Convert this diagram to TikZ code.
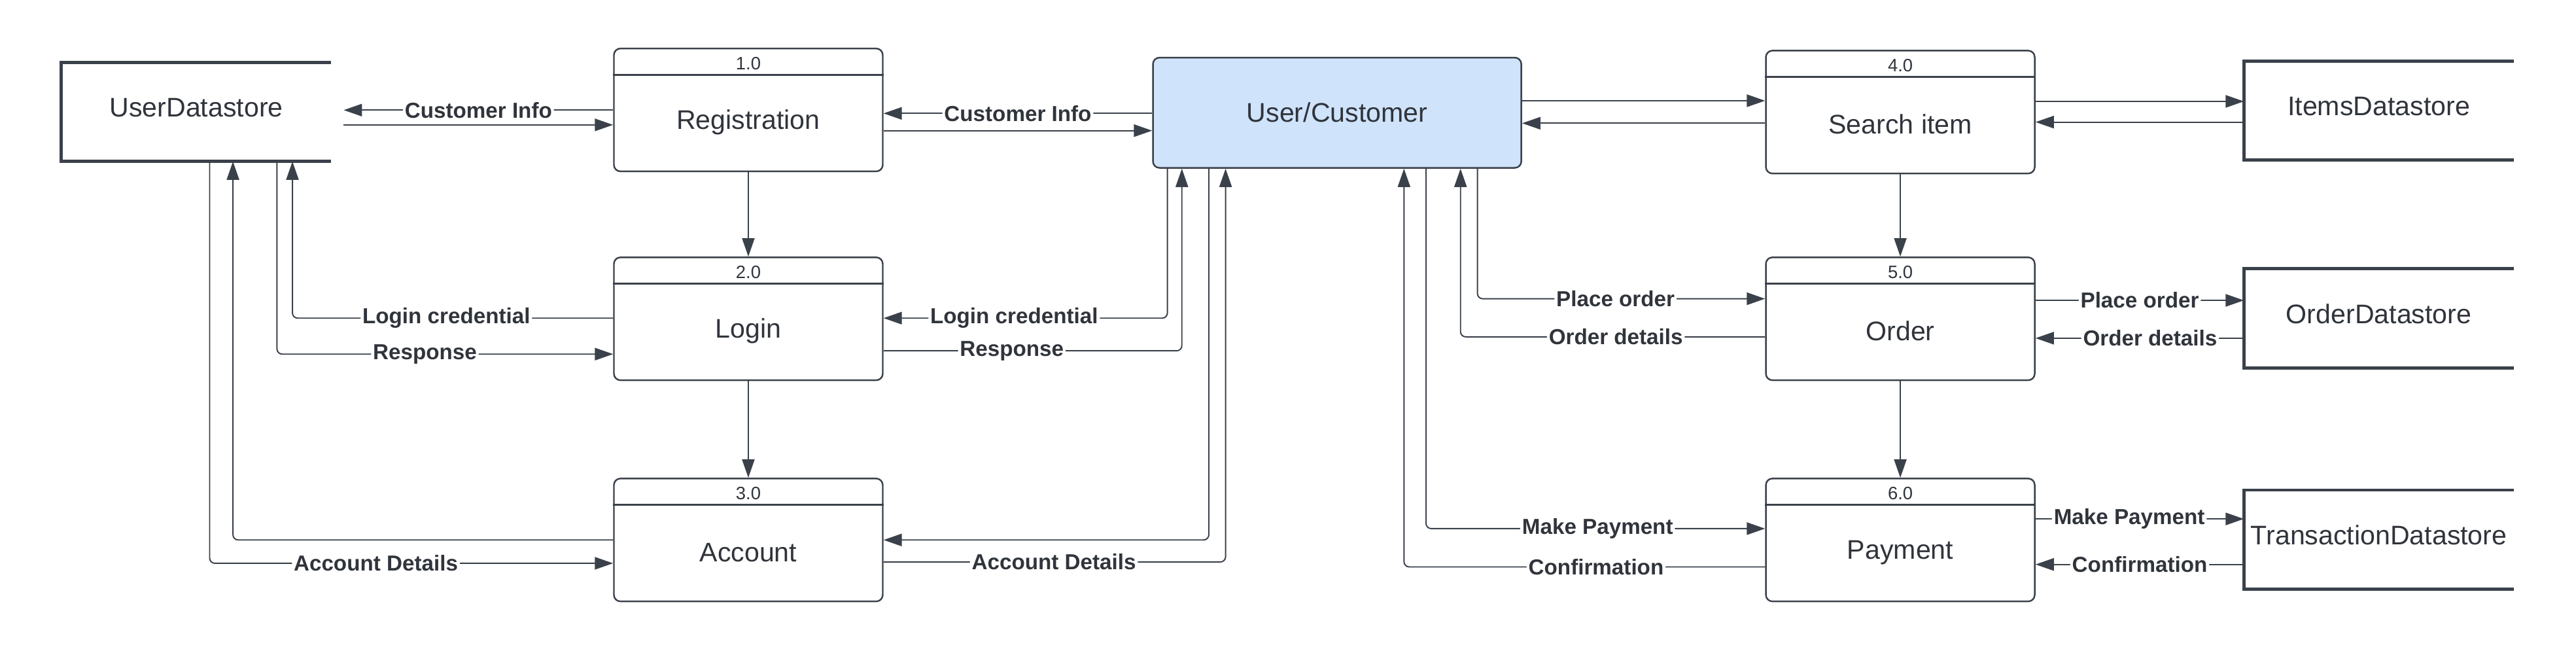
\documentclass[tikz,border=0pt]{standalone}
\usepackage{fontspec}
\setmainfont{Liberation Sans}
\usetikzlibrary{arrows.meta}
\definecolor{ink}{HTML}{3A414A}
\definecolor{inktext}{HTML}{30343B}
\definecolor{userblue}{HTML}{CFE3FA}

\begin{document}
\begin{tikzpicture}[x=0.02511cm, y=-0.02511cm,
% common options for the process boxes:
proc/.style = {draw=ink, line width=0.7pt, rounded corners=0.1cm,
            minimum width=4.11cm, minimum height=1.878cm, inner sep=0},
pnum/.style = {text=inktext, font=\fontsize{7.8}{9}\selectfont, inner sep=0},
ptxt/.style = {text=inktext, font=\fontsize{11.7}{14}\selectfont, inner sep=0},
hdr/.style = {draw=ink, line width=0.7pt},
% common options for the external entity:
ent/.style = {draw=ink, fill=userblue, line width=0.7pt, rounded corners=0.1cm,
            minimum width=5.632cm, minimum height=1.685cm, inner sep=0,
            text=inktext, font=\fontsize{11.7}{14}\selectfont},
% common options for the datastores:
store/.style = {text=inktext, font=\fontsize{11.7}{14}\selectfont, text depth=4pt,
            minimum width=4.113cm, minimum height=1.502cm, inner sep=0},
storeline/.style = {draw=ink, line width=1.4pt},
% common options for the flows:
flow/.style = {draw=ink, line width=0.55pt, rounded corners=0.08cm,
            -{Triangle[length=0.28cm, width=0.19cm]}},
lbl/.style = {fill=white, text=inktext, font=\bfseries\fontsize{9.45}{11}\selectfont,
            inner sep=0.8pt}]
\useasboundingbox (0,0) rectangle (1568,396);
% data stores
\node[store] (D1) at (119.5,68.1) {UserDatastore};
\node[store] (D2) at (1448,67.3) {ItemsDatastore};
\node[store] (D3) at (1448,193.8) {OrderDatastore};
\node[store] (D4) at (1448,328.4) {TransactionDatastore};
\draw[storeline] (D1.north east) -- (D1.north west) -- (D1.south west) -- (D1.south east);
\draw[storeline] (D2.north east) -- (D2.north west) -- (D2.south west) -- (D2.south east);
\draw[storeline] (D3.north east) -- (D3.north west) -- (D3.south west) -- (D3.south east);
\draw[storeline] (D4.north east) -- (D4.north west) -- (D4.south west) -- (D4.south east);
\coordinate (D1r) at ([xshift=0.19cm]D1.east);
% processes
\node[proc] (P1) at (455.5,66.9) {};
\node[proc] (P2) at (455.5,194) {};
\node[proc] (P3) at (455.5,328.6) {};
\node[proc] (P4) at (1156.7,68.2) {};
\node[proc] (P5) at (1156.7,194) {};
\node[proc] (P6) at (1156.7,328.6) {};
\draw[hdr] ([yshift=-0.415cm]P1.north west) -- ([yshift=-0.415cm]P1.north east);
\draw[hdr] ([yshift=-0.415cm]P2.north west) -- ([yshift=-0.415cm]P2.north east);
\draw[hdr] ([yshift=-0.415cm]P3.north west) -- ([yshift=-0.415cm]P3.north east);
\draw[hdr] ([yshift=-0.415cm]P4.north west) -- ([yshift=-0.415cm]P4.north east);
\draw[hdr] ([yshift=-0.415cm]P5.north west) -- ([yshift=-0.415cm]P5.north east);
\draw[hdr] ([yshift=-0.415cm]P6.north west) -- ([yshift=-0.415cm]P6.north east);
\node[pnum] (N1) at ([yshift=-0.24cm]P1.north) {1.0};
\node[pnum] (N2) at ([yshift=-0.24cm]P2.north) {2.0};
\node[pnum] (N3) at ([yshift=-0.24cm]P3.north) {3.0};
\node[pnum] (N4) at ([yshift=-0.24cm]P4.north) {4.0};
\node[pnum] (N5) at ([yshift=-0.24cm]P5.north) {5.0};
\node[pnum] (N6) at ([yshift=-0.24cm]P6.north) {6.0};
\node[ptxt] (T1) at ([yshift=-0.19cm]P1.center) {Registration};
\node[ptxt] (T2) at ([yshift=-0.19cm]P2.center) {Login};
\node[ptxt] (T3) at ([yshift=-0.19cm]P3.center) {Account};
\node[ptxt] (T4) at ([yshift=-0.19cm]P4.center) {Search item};
\node[ptxt] (T5) at ([yshift=-0.19cm]P5.center) {Order};
\node[ptxt] (T6) at ([yshift=-0.19cm]P6.center) {Payment};
% external entity
\node[ent] (U) at (813.9,68.6) {User/Customer};
% top row
\draw[flow] (P1.west |- 0,67) -- node[lbl] (L1) {Customer Info} (D1r |- 0,67);
\draw[flow] (D1r |- 0,76) -- (P1.west |- 0,76);
\draw[flow] (U.west |- 0,69) -- node[lbl] (L2) {Customer Info} (P1.east |- 0,69);
\draw[flow] (P1.east |- 0,79.5) -- (U.west |- 0,79.5);
\draw[flow] (U.east |- 0,61.3) -- (P4.west |- 0,61.3);
\draw[flow] (P4.west |- 0,75) -- (U.east |- 0,75);
\draw[flow] (P4.east |- 0,61.7) -- (D2.west |- 0,61.7);
\draw[flow] (D2.west |- 0,74.3) -- (P4.east |- 0,74.3);
% down the columns
\draw[flow] (P1) -- (P2);
\draw[flow] (P2) -- (P3);
\draw[flow] (P4) -- (P5);
\draw[flow] (P5) -- (P6);
% left loops
\draw[flow] (P2.west |- 0,193.6) -| node[lbl, pos=0.26] (L3) {Login credential} (D1.south -| 178,0);
\draw[flow] (D1.south -| 168.6,0) |- node[lbl, pos=0.72] (L4) {Response} (P2.west |- 0,215.5);
\draw[flow] (P3.west |- 0,328.6) -| (D1.south -| 141.8,0);
\draw[flow] (D1.south -| 127.6,0) |- node[lbl, pos=0.706] (L5) {Account Details} (P3.west |- 0,342.8);
\draw[flow] (U.south -| 710.6,0) |- node[lbl, pos=0.77] (L6) {Login credential} (P2.east |- 0,193.6);
\draw[flow] (P2.east |- 0,213.5) -| node[lbl, pos=0.215] (L7) {Response} (U.south -| 719.4,0);
\draw[flow] (U.south -| 735.8,0) |- (P3.east |- 0,328.6);
\draw[flow] (P3.east |- 0,342) -| node[lbl, pos=0.249] (L8) {Account Details} (U.south -| 746,0);
% right loops
\draw[flow] (U.south -| 899.3,0) |- node[lbl, pos=0.74] (L9) {Place order} (P5.west |- 0,181.8);
\draw[flow] (P5.west |- 0,205) -| node[lbl, pos=0.245] (L10) {Order details} (U.south -| 889,0);
\draw[flow] (U.south -| 868,0) |- node[lbl, pos=0.753] (L11) {Make Payment} (P6.west |- 0,321.7);
\draw[flow] (P6.west |- 0,345) -| node[lbl, pos=0.234] (L12) {Confirmation} (U.south -| 854.6,0);
\draw[flow] (P5.east |- 0,182.8) -- node[lbl] (L13) {Place order} (D3.west |- 0,182.8);
\draw[flow] (D3.west |- 0,205.8) -- node[lbl, pos=0.45] (L14) {Order details} (P5.east |- 0,205.8);
\draw[flow] (P6.east |- 0,315.8) -- node[lbl, pos=0.45] (L15) {Make Payment} (D4.west |- 0,315.8);
\draw[flow] (D4.west |- 0,343.5) -- node[lbl] (L16) {Confirmation} (P6.east |- 0,343.5);
\end{tikzpicture}
\end{document}
